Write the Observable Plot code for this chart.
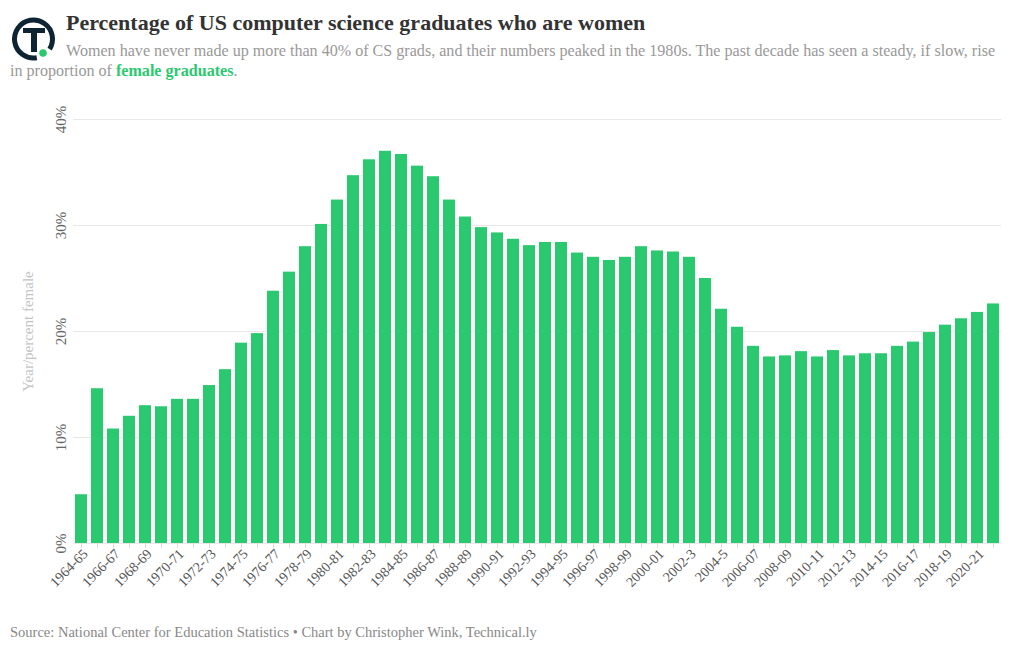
<!DOCTYPE html>
<html>
<head>
<meta charset="utf-8">
<script src="https://cdn.jsdelivr.net/npm/d3@7"></script>
<script src="https://cdn.jsdelivr.net/npm/@observablehq/plot@0.6"></script>
<style>
  body { margin: 0; background: #fff; font-family: "Liberation Serif", "DejaVu Serif", serif; }
  #logo { position: absolute; left: 10px; top: 16px; }
  #title { position: absolute; left: 66px; top: 10px; font-size: 22px; font-weight: bold; color: #333; white-space: nowrap; }
  #subtitle { position: absolute; left: 10px; top: 41px; width: 1000px; font-size: 16.1px; line-height: 20px; color: #999; text-indent: 56px; white-space: nowrap; }
  #subtitle b { color: #2bc96f; }
  #chart { position: absolute; left: 0; top: 90px; }
  #caption { position: absolute; left: 10px; top: 624px; font-size: 14.5px; color: #888; white-space: nowrap; }
</style>
</head>
<body>
<svg id="logo" width="48" height="48" viewBox="0 0 48 48">
  <circle cx="23.5" cy="23" r="19" fill="none" stroke="#0f2433" stroke-width="5" stroke-dasharray="102.8 16.6" transform="rotate(80 23.5 23)"/>
  <rect x="13" y="12" width="22" height="5" fill="#0f2433"/>
  <rect x="21" y="12" width="6" height="24" fill="#0f2433"/>
  <circle cx="33" cy="37" r="3.8" fill="#2bc96f"/>
</svg>
<div id="title">Percentage of US computer science graduates who are women</div>
<div id="subtitle">Women have never made up more than 40% of CS grads, and their numbers peaked in the 1980s. The past decade has seen a steady, if slow, rise<br>in proportion of <b>female graduates</b>.</div>
<div id="chart"></div>
<div id="caption">Source: National Center for Education Statistics • Chart by Christopher Wink, Technical.ly</div>
<script>
const years = [
  "1964-65","1965-66","1966-67","1967-68","1968-69","1969-70","1970-71","1971-72","1972-73","1973-74",
  "1974-75","1975-76","1976-77","1977-78","1978-79","1979-80","1980-81","1981-82","1982-83","1983-84",
  "1984-85","1985-86","1986-87","1987-88","1988-89","1989-90","1990-91","1991-92","1992-93","1993-94",
  "1994-95","1995-96","1996-97","1997-98","1998-99","1999-00","2000-01","2001-02","2002-3","2003-4",
  "2004-5","2005-06","2006-07","2007-08","2008-09","2009-10","2010-11","2011-12","2012-13","2013-14",
  "2014-15","2015-16","2016-17","2017-18","2018-19","2019-20","2020-21","2021-22"
];
const percentFemale = [
  4.6, 14.6, 10.8, 12.0, 13.0, 12.9, 13.6, 13.6, 14.9, 16.4,
  18.9, 19.8, 23.8, 25.6, 28.0, 30.1, 32.4, 34.7, 36.2, 37.0,
  36.7, 35.6, 34.6, 32.4, 30.8, 29.8, 29.3, 28.7, 28.1, 28.4,
  28.4, 27.4, 27.0, 26.7, 27.0, 28.0, 27.6, 27.5, 27.0, 25.0,
  22.1, 20.4, 18.6, 17.6, 17.7, 18.1, 17.6, 18.2, 17.7, 17.9,
  17.9, 18.6, 19.0, 19.9, 20.6, 21.2, 21.8, 22.6
];
const xTickLabels = years.filter((d, i) => i % 2 === 0);
const yTicks = [0, 10, 20, 30, 40];
const yTitle = ["Year/percent female"];

const data = years.map((y, i) => ({year: y, pct: percentFemale[i]}));
const green = "#2bc96f";

const chart = Plot.plot({
  width: 1020,
  height: 520,
  marginLeft: 73,
  marginRight: 19,
  marginTop: 29,
  marginBottom: 67,
  style: {fontFamily: "'Liberation Serif', 'DejaVu Serif', serif", fontSize: "12.5px", background: "transparent"},
  x: {type: "band", domain: years, paddingInner: 0.25, paddingOuter: 0.125},
  y: {domain: [0, 40]},
  marks: [
    Plot.gridY(yTicks, {stroke: "#e8e8e8", strokeOpacity: 1}),
    Plot.barY(data, {x: "year", y: "pct", fill: green}),
    Plot.axisX({label: null, tickSize: 5, stroke: "#ddd", strokeOpacity: 1, tickFormat: () => ""}),
    Plot.text(xTickLabels, {
      x: d => d, text: d => d, frameAnchor: "bottom", dx: 4, dy: 8,
      rotate: -45, textAnchor: "end", lineAnchor: "middle",
      fontSize: 14, fill: "#555"
    }),
    Plot.axisY({ticks: [], label: null}),
    Plot.text(yTicks, {
      y: d => d, text: d => d + "%", frameAnchor: "left", dx: -8,
      rotate: -90, textAnchor: "middle", lineAnchor: "bottom",
      fontSize: 15, fill: "#666"
    }),
    Plot.text(yTitle, {
      text: d => d, frameAnchor: "left", dx: -45, rotate: -90,
      textAnchor: "middle", lineAnchor: "middle", fontSize: 15, fill: "#c4c4c4"
    })
  ]
});
document.getElementById("chart").appendChild(chart);
</script>
</body>
</html>
